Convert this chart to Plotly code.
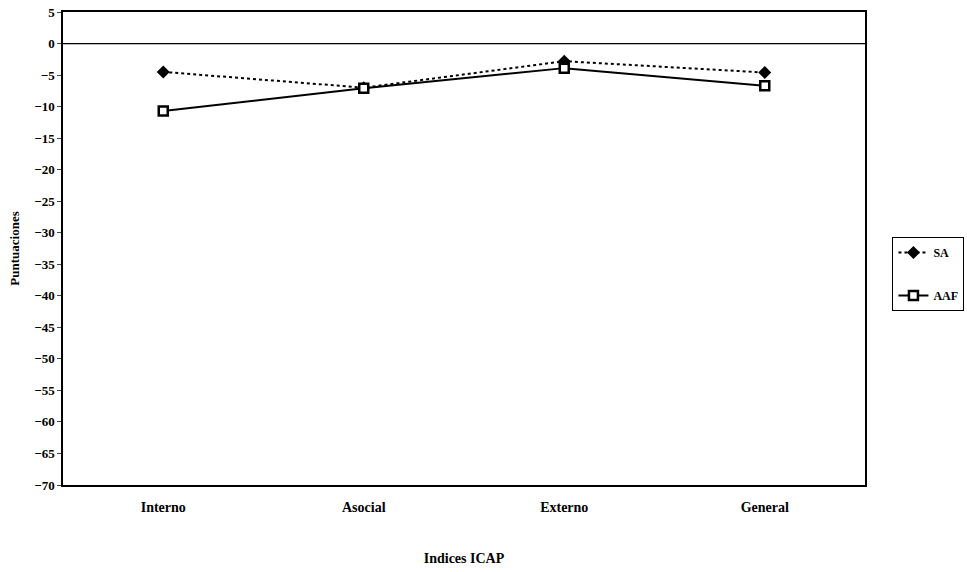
import plotly.graph_objects as go

categories = ["Interno", "Asocial", "Externo", "General"]
sa_values = [-4.5, -7.0, -2.8, -4.6]
aaf_values = [-10.7, -7.1, -3.9, -6.7]
y_ticks = list(range(5, -75, -5))

font_family = "Liberation Serif"

fig = go.Figure()
fig.add_trace(go.Scatter(
    x=categories, y=sa_values, name="SA", mode="lines+markers",
    line=dict(color="black", width=2, dash="dot"),
    marker=dict(symbol="diamond", size=10, color="black"),
    legendgroup="a",
))
fig.add_trace(go.Scatter(
    x=categories, y=aaf_values, name="AAF", mode="lines+markers",
    line=dict(color="black", width=2),
    marker=dict(symbol="square", size=9, color="white", line=dict(color="black", width=2.5)),
    legendgroup="b",
))

fig.add_hline(y=0, line=dict(color="black", width=1.2))

fig.update_layout(
    width=967, height=572,
    margin=dict(l=63, r=102, t=12, b=87, autoexpand=False),
    plot_bgcolor="white", paper_bgcolor="white",
    font=dict(family=font_family, color="black", size=12),
    showlegend=True,
    legend=dict(
        x=1.124, y=0.446, xanchor="right", yanchor="middle",
        bordercolor="black", borderwidth=1, bgcolor="white",
        font=dict(family=font_family, size=12, color="black", weight="bold"),
        tracegroupgap=24, itemwidth=30,
    ),
    xaxis=dict(
        type="category", range=[-0.5, 3.5],
        showline=True, linecolor="black", linewidth=1.5, mirror=True,
        showgrid=False, ticks="", ticklabelstandoff=8,
        tickfont=dict(family=font_family, size=14, weight="bold"),
        title=dict(text="<b>Indices ICAP</b>", font=dict(family=font_family, size=14), standoff=40),
    ),
    yaxis=dict(
        range=[-70, 5], tickvals=y_ticks,
        showline=True, linecolor="black", linewidth=1.5, mirror=True,
        showgrid=False, ticks="outside", ticklen=4, zeroline=False,
        tickfont=dict(family=font_family, size=13, weight="bold"),
        title=dict(text="<b>Puntuaciones</b>", font=dict(family=font_family, size=13), standoff=12),
    ),
)

fig.write_html("out.html")
